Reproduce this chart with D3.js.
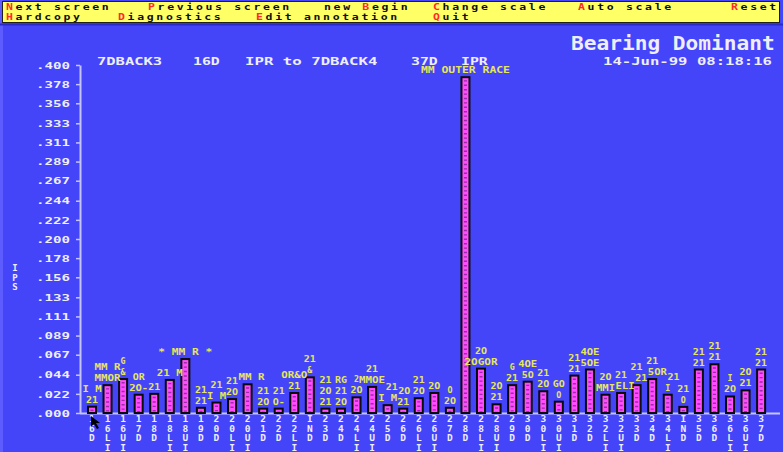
<!DOCTYPE html>
<html>
<head>
<meta charset="utf-8">
<script src="https://cdn.jsdelivr.net/npm/d3@7"></script>
<style>
  html, body { margin: 0; padding: 0; background: #4444f8; }
  svg { display: block; }
  text { font-family: "DejaVu Sans Mono", "Liberation Mono", monospace; font-weight: bold; }
</style>
</head>
<body>
<svg id="chart" width="783" height="452"></svg>
<script>
// Measurement points along the drive train, in plotting order
const categories = ["16D","16LI","16UI","17D","18D","18LI","18UI","19D","20D","20LI","20UI","21D","22D","22LI","IND",
  "23D","24D","24LI","24UI","25D","26D","26LI","26UI","27D","28D","28LI","28UI","29D","30D","30LI","30UI",
  "31D","32D","32LI","32UI","33D","34D","34LI","IND","35D","36D","36LI","36UI","37D"];

// Dominant bearing amplitude at each point (IPS)
const ipsValues = [0.0073,0.032,0.039,0.021,0.022,0.038,0.062,0.006,0.012,0.016,0.033,0.005,0.005,0.023,0.041,
  0.005,0.005,0.018,0.030,0.009,0.005,0.017,0.023,0.006,0.386,0.051,0.010,0.032,0.036,0.025,0.013,
  0.043,0.050,0.021,0.023,0.032,0.039,0.021,0.007,0.050,0.056,0.019,0.026,0.050];

// Diagnostic codes stacked above each bar, nearest first
const annotations = [["21","I M"],["MMOR","MM R"],["&","G"],["2O-","OR"],["21"],["21 M"],["* MM R *"],["21","21"],
  ["I M","21"],["2O","21"],["MM R"],["2O","21"],["O-","21"],["21","OR&O"],["&","21"],["21","2O","21"],
  ["2O","21","RG"],["2O","2"],["MMOE","21"],["I M","21"],["21","2O"],["2O","21"],["2O"],["2O","O"],
  ["MM OUTER RACE"],["2OGOR","2O"],["21","2O"],["21","G"],["5O","4OE"],["2O","21"],["O","GO"],["21","21"],
  ["5OE","4OE"],["MMI","2O"],["ELI","21"],["21","21"],["5OR","21"],["I","21"],["O","21"],["21","21"],
  ["21","21"],["2O","I"],["21","2O"],["21","21"]];

const yTickLabels = [".000",".022",".044",".067",".089",".111",".133",".156",".178",".200",
  ".222",".244",".267",".289",".311",".333",".356",".378",".400"];

const menuRow1 = ["Next screen","Previous screen","new Begin","Change scale","Auto scale","Reset"];
const menuHot1 = [0,0,4,0,0,0];
const menuRow2 = ["Hardcopy","Diagnostics","Edit annotation","Quit"];
const menuHot2 = [0,0,0,0];

const titleText = "Bearing  Dominant";
const stampText = "14-Jun-99 08:18:16";
const headerParts = ["7DBACK3","16D","IPR to 7DBACK4","37D","IPR"];
const yAxisTitle = "IPS";

// ---- drawing ----
const W = 783, H = 452;
const svg = d3.select("#chart");
const BG = "#4444f8", FG = "#eeeeff", AXIS = "#c4c4ff", NOTE = "#e6e65c";

svg.append("rect").attr("width", W).attr("height", H).attr("fill", BG);
svg.append("rect").attr("x", 0).attr("y", 0).attr("width", 3).attr("height", H).attr("fill", "#5c5cff");

// fixed-pitch text helper: stretches the string to a cell width per character
function mono(g, str, x, y, cell, size, fill, anchor) {
  return g.append("text")
    .attr("x", x).attr("y", y)
    .attr("font-size", size)
    .attr("fill", fill)
    .attr("text-anchor", anchor || "start")
    .attr("textLength", Math.max(1, str.length * cell - 2))
    .attr("lengthAdjust", "spacingAndGlyphs")
    .text(str);
}

// menu strip
const menu = svg.append("g");
menu.append("rect").attr("x", 2.5).attr("y", 1.5).attr("width", 777).attr("height", 21)
  .attr("fill", "#ffff66").attr("stroke", "#202020").attr("stroke-width", 1);
menu.append("line").attr("x1", 0).attr("x2", W).attr("y1", 24.5).attr("y2", 24.5)
  .attr("stroke", "#2a2ac8").attr("stroke-width", 2);

// menu entries: wide 9.6px character cells, hot key letter in red
const MENU_SIZE = 8.5, MENU_STRETCH = 1.35, MENU_CELL = 9.6;
function menuRow(items, hots, xs, y) {
  items.forEach((s, i) => {
    const t = menu.append("text")
      .attr("transform", `translate(${xs[i]},${y}) scale(${MENU_STRETCH},1)`)
      .attr("font-size", MENU_SIZE).attr("fill", "#101010")
      .attr("letter-spacing", MENU_CELL / MENU_STRETCH - MENU_SIZE * 0.602);
    const h = hots[i];
    if (h > 0) t.append("tspan").text(s.slice(0, h));
    t.append("tspan").attr("fill", "#ff2a2a").text(s[h]);
    t.append("tspan").text(s.slice(h + 1));
  });
}
menuRow(menuRow1, menuHot1, [6, 148, 324, 433, 578, 731], 10.3);
menuRow(menuRow2, menuHot2, [6, 118, 256, 433], 20.2);

// header
mono(svg, titleText, 571, 50, 12.1, 19, FG);
mono(svg, stampText, 603, 64.5, 9.5, 10.5, FG);
const headerX = [97, 193, 245, 411, 461];
headerParts.forEach((s, i) => mono(svg, s, headerX[i], 64.5, 9.6, 10.5, FG));

// scales
const x = d3.scaleBand().domain(d3.range(categories.length)).range([84.2, 768.9]).padding(0);
const y = d3.scaleLinear().domain([0, 0.4]).range([413, 65]);

// y axis
const yAxis = svg.append("g").attr("transform", "translate(80,0)")
  .call(d3.axisLeft(y)
    .tickValues(yTickLabels.map(Number))
    .tickFormat((d, i) => yTickLabels[i])
    .tickSize(4).tickSizeOuter(0).tickPadding(6));
yAxis.select(".domain").attr("stroke", AXIS).attr("stroke-width", 2);
yAxis.selectAll(".tick line").attr("stroke", AXIS).attr("stroke-width", 1.5);
yAxis.selectAll(".tick text")
  .attr("fill", FG).attr("font-size", 9).attr("dy", "0.35em")
  .attr("font-family", "DejaVu Sans Mono, monospace").attr("font-weight", "bold")
  .attr("textLength", 34).attr("lengthAdjust", "spacingAndGlyphs");

// y axis title, letters stacked
const yt = svg.append("text").attr("x", 15).attr("y", 271).attr("font-size", 9)
  .attr("fill", FG).attr("text-anchor", "middle");
yAxisTitle.split("").forEach((c, i) => yt.append("tspan").attr("x", 15).attr("dy", i ? 9.5 : 0).text(c));

// x axis with vertically stacked labels
const xAxis = svg.append("g").attr("transform", `translate(0,${y(0)})`)
  .call(d3.axisBottom(x).tickSize(0).tickPadding(0).tickFormat(i => categories[i]));
xAxis.select(".domain").remove();
xAxis.selectAll(".tick text").each(function (i) {
  const t = d3.select(this).text(null).attr("y", 0).attr("dy", null)
    .attr("fill", FG).attr("font-size", 9.5)
    .attr("font-family", "DejaVu Sans Mono, monospace").attr("font-weight", "bold");
  categories[i].split("").forEach((c, k) =>
    t.append("tspan").attr("x", 0).attr("y", 9 + k * 9.6).text(c));
});
svg.append("line").attr("x1", 80).attr("x2", W - 3).attr("y1", y(0) + 0.5).attr("y2", y(0) + 0.5)
  .attr("stroke", AXIS).attr("stroke-width", 2);

// bars
const barW = 8;
const bars = svg.append("g").selectAll("g.bar").data(ipsValues).join("g").attr("class", "bar");
bars.append("rect")
  .attr("x", (d, i) => x(i) + (x.bandwidth() - barW) / 2)
  .attr("y", d => y(d))
  .attr("width", barW)
  .attr("height", d => y(0) - y(d))
  .attr("fill", "#ff4cff")
  .attr("stroke", "#0a0a0a").attr("stroke-width", 2);
bars.append("line")
  .attr("x1", (d, i) => x(i) + x.bandwidth() / 2)
  .attr("x2", (d, i) => x(i) + x.bandwidth() / 2)
  .attr("y1", d => y(d) + 3)
  .attr("y2", y(0) - 1)
  .attr("stroke", "#9a2aa6").attr("stroke-width", 3)
  .attr("stroke-dasharray", "1.4,3");

// diagnostic notes, nudged sideways when they would collide with a note already placed
const NOTE_CELL = 7, NOTE_SIZE = 8.5;
const notes = svg.append("g");
const placed = [];
annotations.forEach((list, i) => {
  list.forEach((s, j) => {
    let cx = x(i) + x.bandwidth() / 2;
    const base = y(ipsValues[i]) - 4 - j * 11;
    const w = Math.max(1, s.length * NOTE_CELL - 2);
    const y0 = base - NOTE_SIZE * 0.95, y1 = base + NOTE_SIZE * 0.25;
    for (let pass = 0; pass < 6; pass++) {
      const hit = placed.find(b => y0 < b.y1 && y1 > b.y0 && cx - w / 2 < b.x1 && cx + w / 2 > b.x0);
      if (!hit) break;
      cx = hit.x1 + w / 2 + 0.6;
    }
    placed.push({ x0: cx - w / 2, x1: cx + w / 2, y0, y1 });
    mono(notes, s, cx, base, NOTE_CELL, NOTE_SIZE, NOTE, "middle");
  });
});

// mouse pointer resting on the baseline
const px = x(0) + x.bandwidth() / 2 - 1, py = y(0) + 3;
svg.append("path")
  .attr("d", `M${px},${py} l0,11 l3,-3 l3,5 l2,-1 l-3,-5 l4,0 Z`)
  .attr("fill", "#000");
</script>
</body>
</html>
